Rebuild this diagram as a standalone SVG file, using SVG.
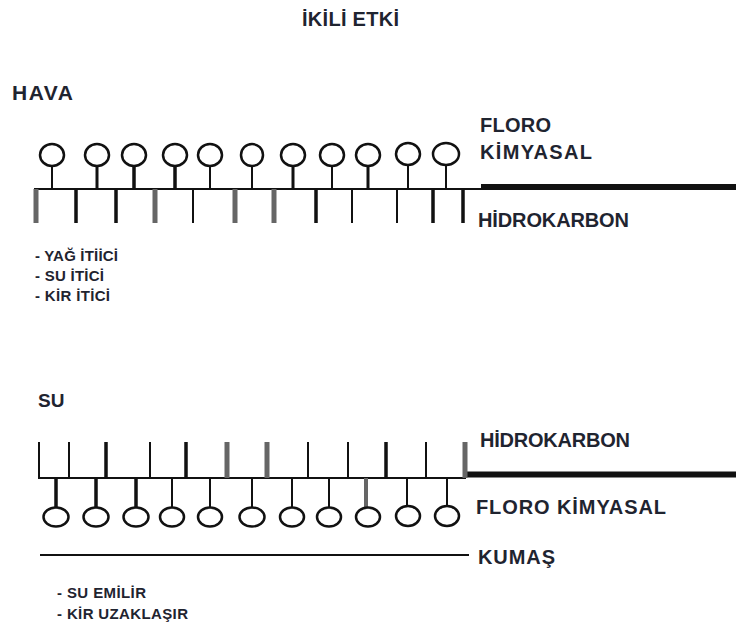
<svg xmlns="http://www.w3.org/2000/svg" width="736" height="625" viewBox="0 0 736 625">
<style>
text{font-family:"Liberation Sans",Arial,sans-serif;font-weight:bold;fill:#1f2430}
.t{font-size:21px}
.l{font-size:20px}
.s{font-size:15px}
.c{fill:none;stroke:#111;stroke-width:2.500}
.w{fill:none;stroke:#111;stroke-linecap:butt}
.g{stroke:#666}
</style>
<rect width="736" height="625" fill="#fff"/>
<g id="connectors" class="w">
<path stroke-width="2" d="M34 189H481M38 478H466M40 555H469"/>
<path stroke-width="6" d="M481 187H736M466 474.500H736"/>
<path stroke-width="2" d="M52 167V189M210 167V189M252 167V189M332 167V189M408 165V189M446 165V189M172 478V507M210 478V507M252 478V507M292 478V507M329 478V507M407 478V506M447 478V506"/>
<path stroke-width="3" d="M97 167V189M293 167V189M368 167V189"/>
<path stroke-width="3.500" d="M134 167V189M175 167V189M56 478V507M96 478V507M136 478V507"/>
<path class="g" stroke-width="4" d="M366 478V507"/>
<path stroke-width="3.500" d="M76 189V223M116 189V223M316 189V223M433 189V223M463 189V223"/>
<path class="g" stroke-width="5" d="M36 189V223M155 189V223M235 189V223M274 189V223"/>
<path stroke-width="2" d="M193 189V223M352 189V223M397 189V223M39 442V478M69 442V478M150 442V478M308 442V478M348 442V478M426 442V478"/>
<path stroke-width="3.500" d="M106 442V478M186 442V478M386 442V478"/>
<path class="g" stroke-width="5" d="M227 442V478M267 442V478M465 442V478"/>
</g>
<g id="circles-top" class="c">
<ellipse cx="52" cy="155" rx="12" ry="11"/><ellipse cx="97" cy="155" rx="12" ry="11"/><ellipse cx="134" cy="155" rx="12" ry="11"/><ellipse cx="175" cy="155" rx="12" ry="11"/><ellipse cx="210" cy="155" rx="12" ry="11"/><ellipse cx="252" cy="155" rx="11" ry="11"/><ellipse cx="293" cy="155" rx="12" ry="11"/><ellipse cx="332" cy="155" rx="12" ry="11"/><ellipse cx="368" cy="155" rx="12" ry="11"/><ellipse cx="408" cy="154" rx="12" ry="11"/><ellipse cx="446" cy="154" rx="13" ry="11"/>
</g>
<g id="circles-bottom" class="c">
<ellipse cx="56" cy="517" rx="12.500" ry="9.500"/><ellipse cx="96" cy="517" rx="12.500" ry="9.500"/><ellipse cx="136" cy="517" rx="12.500" ry="9.500"/><ellipse cx="172" cy="517" rx="12" ry="9.500"/><ellipse cx="210" cy="517" rx="12" ry="9.500"/><ellipse cx="252" cy="517" rx="12.500" ry="9.500"/><ellipse cx="292" cy="517" rx="12" ry="9.500"/><ellipse cx="329" cy="517" rx="12" ry="9.500"/><ellipse cx="368" cy="517" rx="12" ry="9.500"/><ellipse cx="408" cy="516" rx="12" ry="10"/><ellipse cx="447" cy="516" rx="12" ry="10"/>
</g>
<g id="title"><text class="l" x="302" y="26" textLength="97">İKİLİ ETKİ</text></g>
<g id="hava"><text class="t" x="12" y="100" textLength="61">HAVA</text></g>
<g id="su"><text class="t" x="38" y="407" style="font-size:19px">SU</text></g>
<g id="labels-top">
<text class="l" x="480" y="132" textLength="71">FLORO</text>
<text class="l" x="480" y="159" textLength="112">KİMYASAL</text>
<text class="l" x="478" y="227" textLength="151">HİDROKARBON</text>
</g>
<g id="labels-bottom">
<text class="l" x="480" y="447" textLength="150">HİDROKARBON</text>
<text class="l" x="476" y="514" textLength="190">FLORO KİMYASAL</text>
<text class="l" x="478" y="564" textLength="77">KUMAŞ</text>
</g>
<g id="notes-top">
<text class="s" x="35" y="261" textLength="83">- YAĞ İTİİCİ</text>
<text class="s" x="35" y="281" textLength="69">- SU İTİCİ</text>
<text class="s" x="35" y="301" textLength="75">- KİR İTİCİ</text>
</g>
<g id="notes-bottom">
<text class="s" x="57" y="598" textLength="89">- SU EMİLİR</text>
<text class="s" x="57" y="619" textLength="131">- KİR UZAKLAŞIR</text>
</g>
</svg>
